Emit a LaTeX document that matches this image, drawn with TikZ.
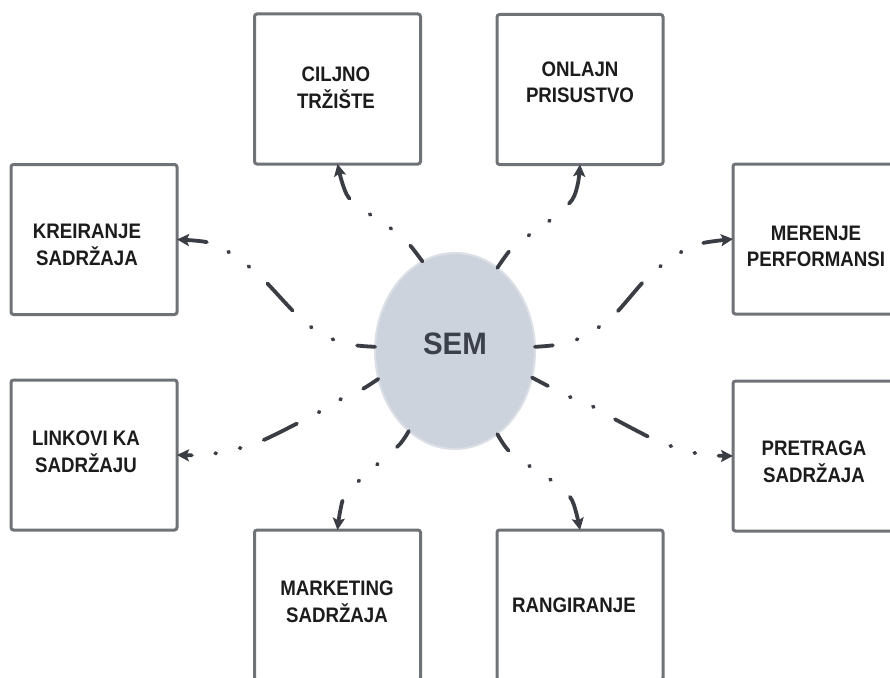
\documentclass[tikz,border=0pt]{standalone}
\usepackage{fontspec}
\setmainfont{Liberation Sans}
\usepackage{graphicx}
\usetikzlibrary{shapes.geometric,arrows.meta}

\definecolor{boxline}{HTML}{6F7277}
\definecolor{linkcol}{HTML}{3A3D44}
\definecolor{semfill}{HTML}{CCD3DC}
\definecolor{semrim}{HTML}{DCE0E6}
\definecolor{semtxt}{HTML}{3B404B}
\definecolor{lbltxt}{HTML}{1C1C1C}

% two centred lines, slightly condensed
\newcommand{\twoline}[2]{\scalebox{0.89}[1]{\begin{tabular}{@{}c@{}}#1\\#2\end{tabular}}}

\tikzset{
  topic/.style={draw=boxline, line width=3pt, fill=white, rectangle,
    rounded corners=2.5pt, minimum width=166pt, minimum height=150pt,
    inner sep=0pt, outer sep=0pt},
  topictext/.style={text=lbltxt, font=\fontsize{21}{26}\selectfont\bfseries, inner sep=0pt},
  hub/.style={ellipse, draw=semrim, line width=2pt, fill=semfill,
    minimum width=160pt, minimum height=196pt, inner sep=0pt, outer sep=0pt},
  hubtext/.style={text=semtxt, font=\fontsize{31}{31}\selectfont\bfseries, inner sep=0pt},
  linkbase/.style={draw=linkcol, line width=3.8pt, line cap=round,
    -{Stealth[length=12pt,width=12pt,inset=2.5pt]}},
  linkshort/.style={linkbase,
    dash pattern=on 20pt off 25.5pt on 1pt off 24pt on 1pt off 25.5pt on 400pt},
  linklong/.style={linkbase,
    dash pattern=on 18pt off 24.5pt on 1pt off 24pt on 1pt off 24.5pt on 37pt off 24.5pt on 1pt off 24pt on 1pt off 23.5pt on 400pt},
}

\begin{document}
\begin{tikzpicture}[x=1pt,y=-1pt]
  \clip (0,0) rectangle (890,677);
  \fill[white] (0,0) rectangle (890,677);

  % topic boxes
  \node[topic] (ciljno)     at (337.5,89)  {};
  \node[topic] (onlajn)     at (580,89.5)  {};
  \node[topic] (kreiranje)  at (94,239.5)  {};
  \node[topic] (merenje)    at (816,239)   {};
  \node[topic] (linkovi)    at (94,455)    {};
  \node[topic] (pretraga)   at (816,456)   {};
  \node[topic] (marketing)  at (337.5,605) {};
  \node[topic] (rangiranje) at (580,605)   {};

  \node[topictext] (t-ciljno)     at (336,89.5) {\twoline{CILJNO}{TRŽIŠTE}};
  \node[topictext] (t-onlajn)     at (580,84)   {\twoline{ONLAJN}{PRISUSTVO}};
  \node[topictext] (t-kreiranje)  at (87,247)   {\twoline{KREIRANJE}{SADRŽAJA}};
  \node[topictext] (t-merenje)    at (816,248)  {\twoline{MERENJE}{PERFORMANSI}};
  \node[topictext] (t-linkovi)    at (86,454)   {\twoline{LINKOVI KA}{SADRŽAJU}};
  \node[topictext] (t-pretraga)   at (814,464)  {\twoline{PRETRAGA}{SADRŽAJA}};
  \node[topictext] (t-marketing)  at (337,604)  {\twoline{MARKETING}{SADRŽAJA}};
  \node[topictext] (t-rangiranje) at (574,605)  {\scalebox{0.89}[1]{RANGIRANJE}};

  % central hub
  \node[hub] (sem) at (455,351) {};
  \node[hubtext] (t-sem) at (455,344) {\scalebox{0.95}[1]{SEM}};

  % connectors
  \draw[linkshort] plot[smooth] coordinates {(sem.110) (408,243) (389,227) (368,213) (349,198) (342,182) (ciljno.south)};
  \draw[linkshort] plot[smooth] coordinates {(sem.63) (512,248) (532,233) (553,218) (572,200) (578,183) (onlajn.south)};
  \draw[linklong] plot[smooth] coordinates {(sem.177) (353,345) (332,339) (311,327) (293,311) (265,281) (247,265) (227,251) (206,242) (kreiranje.east)};
  \draw[linklong] plot[smooth] coordinates {(sem.3) (555,345) (578,339) (599,327) (617,312) (644,281) (662,265) (683,251) (703,243) (merenje.west)};
  \draw[linklong] plot[smooth] coordinates {(sem.200) (361,390) (341,399) (321,411) (302,421) (268,438) (248,446) (226,451) (205,455) (linkovi.east)};
  \draw[linklong] plot[smooth] coordinates {(sem.341) (550,387) (570,397) (590,405) (609,416) (643,434) (662,443) (684,450) (705,455) (pretraga.west)};
  \draw[linkshort] plot[smooth] coordinates {(sem.297) (508,450) (528,465) (551,480) (570,497) (576,512) (rangiranje.north)};
  \draw[linkshort] plot[smooth] coordinates {(sem.240) (400,444) (381,461) (362,478) (345,495) (340,512) (marketing.north)};
\end{tikzpicture}
\end{document}
